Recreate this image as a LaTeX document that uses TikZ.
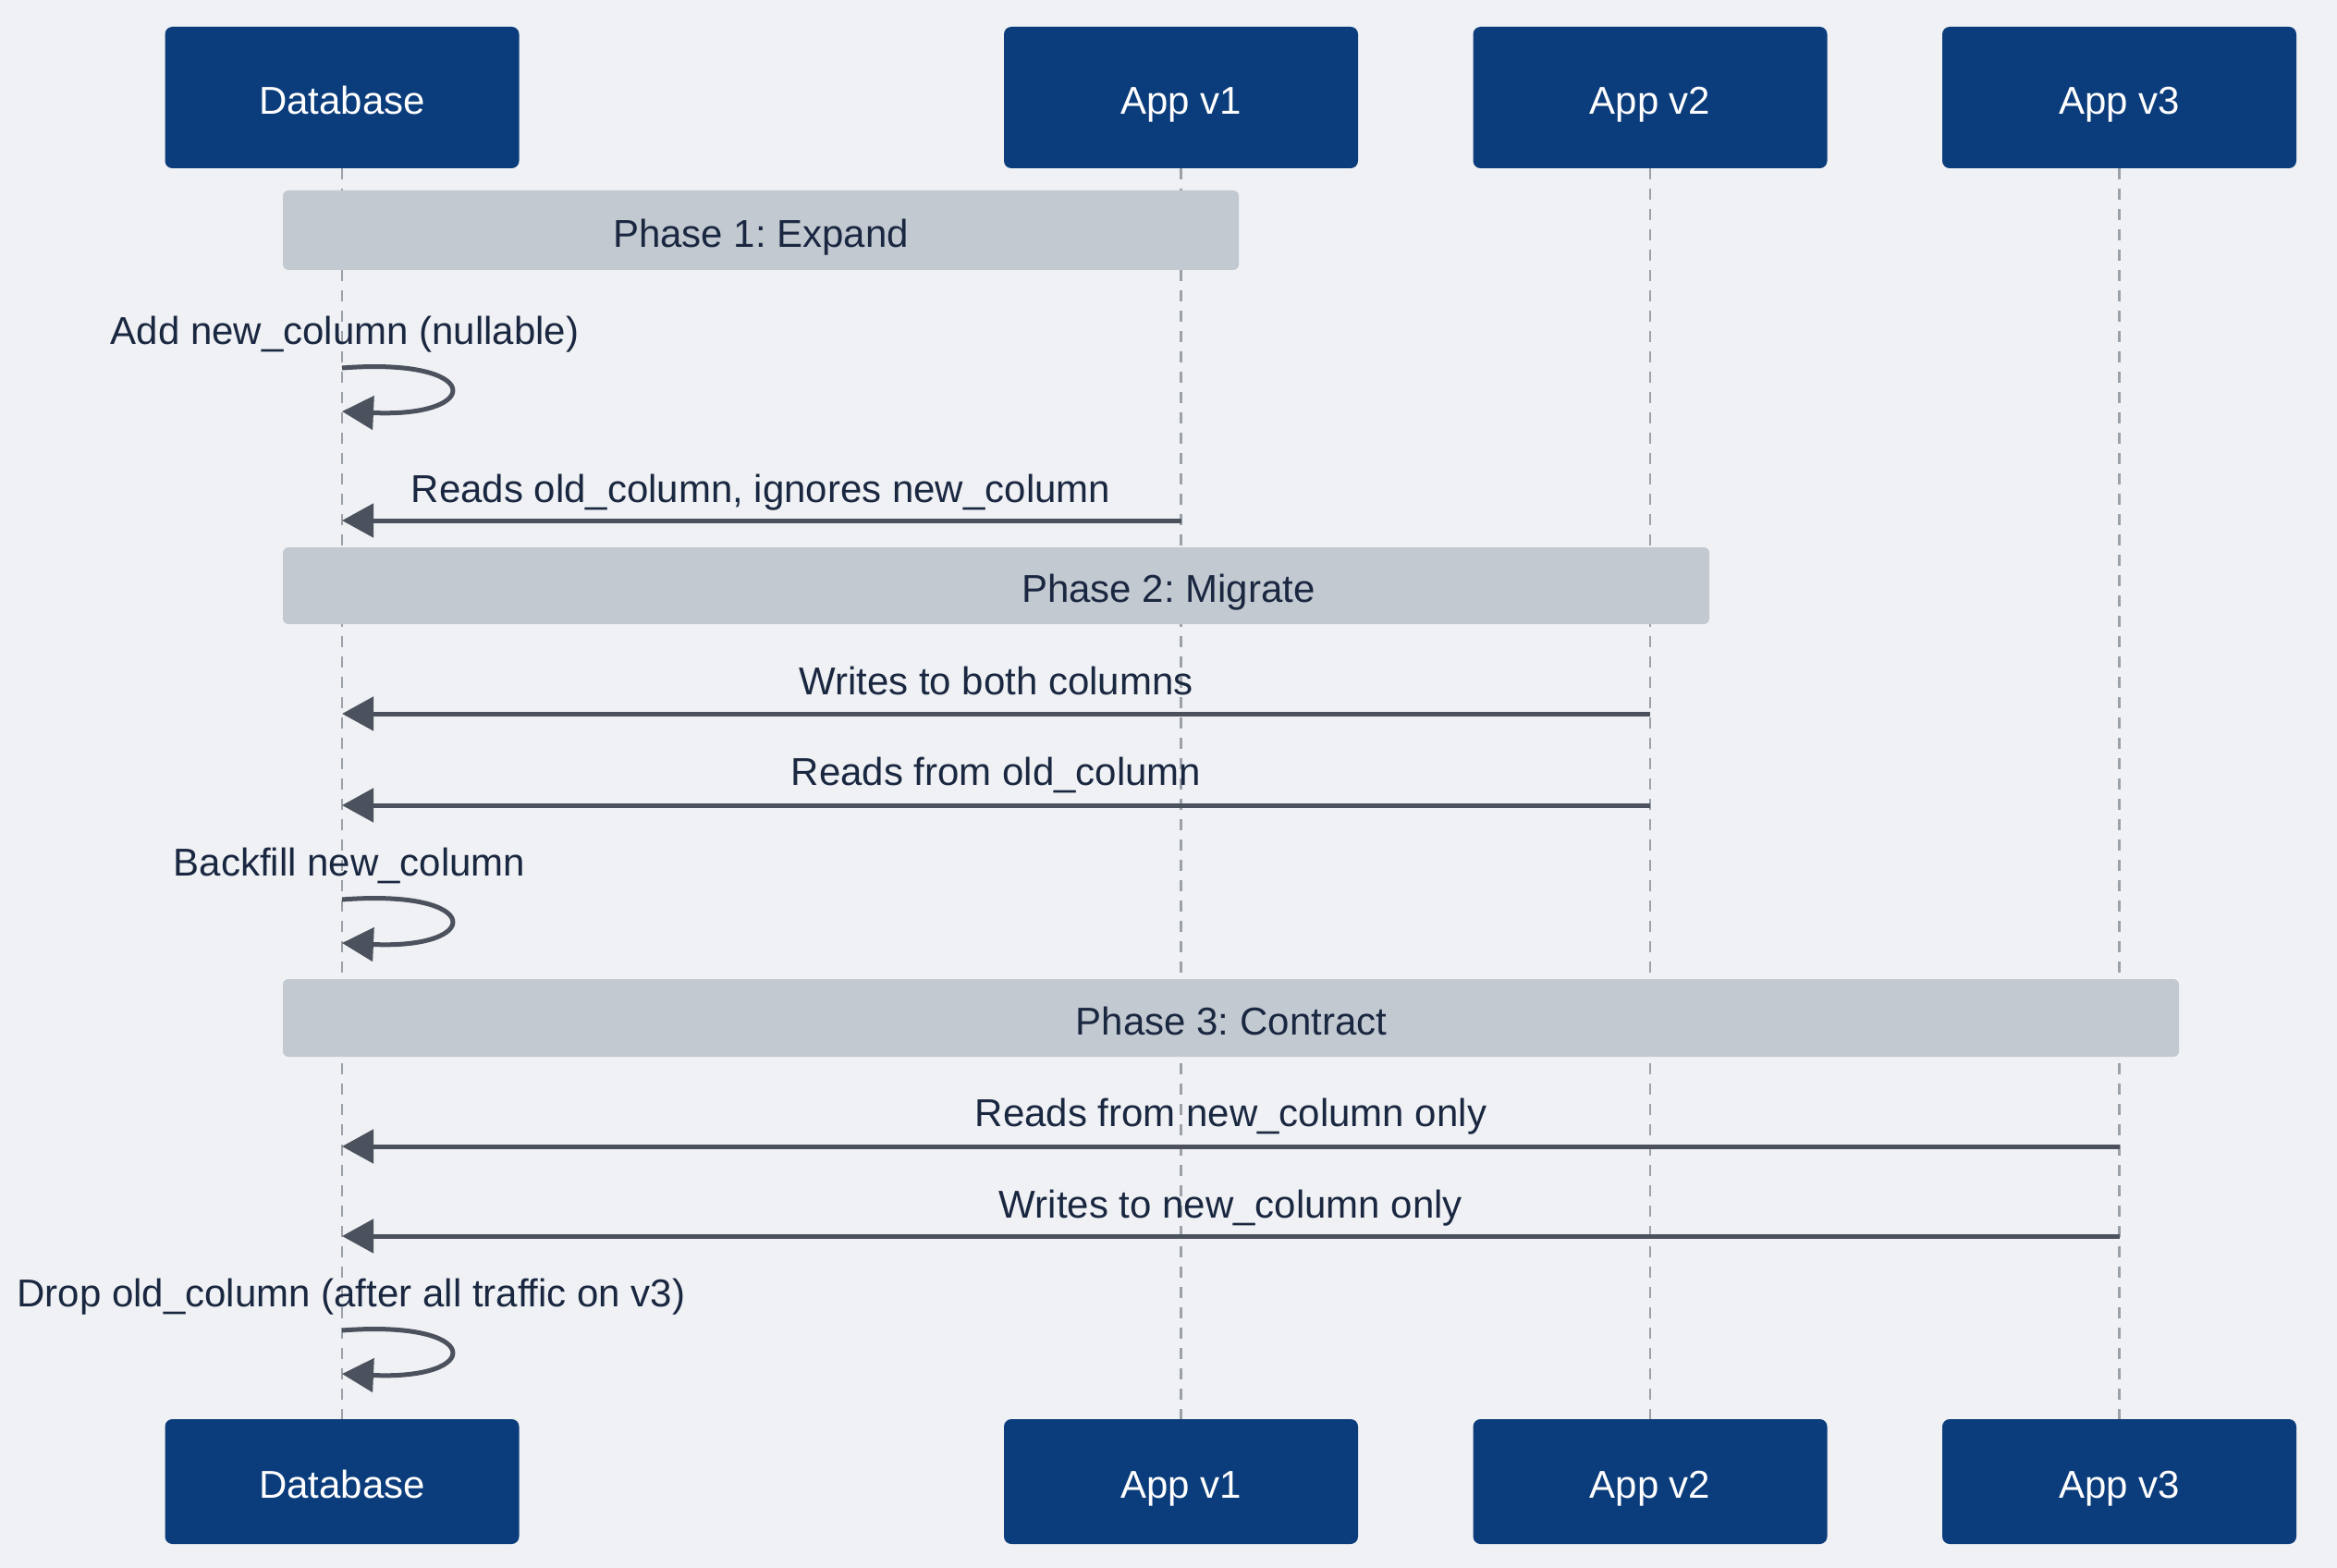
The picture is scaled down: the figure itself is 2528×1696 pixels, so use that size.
\documentclass[tikz,border=0pt]{standalone}
\usepackage{fontspec}
\setmainfont{Liberation Sans}
\usetikzlibrary{arrows.meta}
\frenchspacing
\definecolor{bgc}{HTML}{EFF1F4}
\definecolor{navy}{HTML}{0B3C7B}
\definecolor{bandc}{HTML}{C3C9D1}
\definecolor{ink}{HTML}{1A2740}
\definecolor{msgc}{HTML}{4B525D}
\definecolor{lifec}{HTML}{9BA1A9}
\begin{document}
\begin{tikzpicture}[x=0.5pt,y=-0.5pt,
  txt/.style={font=\fontsize{21}{25}\selectfont},
  actor/.style={txt, fill=navy, text=white, rounded corners=4pt,
    minimum width=191.5pt, inner sep=0pt, text height=18pt, text depth=0pt},
  toprow/.style={actor, minimum height=76.5pt},
  botrow/.style={actor, minimum height=67.5pt},
  band/.style={fill=bandc, rounded corners=3pt, inner sep=0pt},
  bandlabel/.style={txt, text=ink, inner sep=0pt, text height=15pt, text depth=0pt},
  msglabel/.style={txt, text=ink, inner sep=0pt, text height=15pt, text depth=0pt},
  lifeline/.style={draw=lifec, line width=1.4pt, dash pattern=on 6pt off 5pt},
  msg/.style={draw=msgc, line width=2.5pt, -{Triangle[length=17pt,width=18pt]}},
]
% canvas
\fill[bgc] (0,0) rectangle (2528,1696);
\useasboundingbox (0,0) rectangle (2528,1696);

% participants, top and bottom
\node[toprow] (dbT) at (370,105.5) {Database};
\node[toprow] (v1T) at (1277.5,105.5) {App v1};
\node[toprow] (v2T) at (1785,105.5) {App v2};
\node[toprow] (v3T) at (2292.5,105.5) {App v3};
\node[botrow] (dbB) at (370,1602.5) {Database};
\node[botrow] (v1B) at (1277.5,1602.5) {App v1};
\node[botrow] (v2B) at (1785,1602.5) {App v2};
\node[botrow] (v3B) at (2292.5,1602.5) {App v3};

% lifelines
\draw[lifeline] (dbT.south) -- (dbB.north);
\draw[lifeline] (v1T.south) -- (v1B.north);
\draw[lifeline] (v2T.south) -- (v2B.north);
\draw[lifeline] (v3T.south) -- (v3B.north);

% phase bands
\node[band, minimum width=517pt, minimum height=43pt] (ph1) at (823,249) {};
\node[bandlabel] (ph1t) at (823,253) {Phase 1: Expand};
\node[band, minimum width=771.5pt, minimum height=41.5pt] (ph2) at (1077.5,633.5) {};
\node[bandlabel] (ph2t) at (1264,636) {Phase 2: Migrate};
\node[band, minimum width=1025.5pt, minimum height=42pt] (ph3) at (1331.5,1101) {};
\node[bandlabel] (ph3t) at (1332,1104) {Phase 3: Contract};

% endpoints of messages on the lifelines
\coordinate (a1s) at (370,398);  \coordinate (a1e) at (370,445);
\coordinate (r1s) at (1277.5,563); \coordinate (r1e) at (370,563);
\coordinate (w2s) at (1785,772);  \coordinate (w2e) at (370,772);
\coordinate (r2s) at (1785,871);  \coordinate (r2e) at (370,871);
\coordinate (b2s) at (370,973);  \coordinate (b2e) at (370,1020);
\coordinate (r3s) at (2292.5,1240); \coordinate (r3e) at (370,1240);
\coordinate (w3s) at (2292.5,1337); \coordinate (w3e) at (370,1337);
\coordinate (d3s) at (370,1439); \coordinate (d3e) at (370,1486);

% phase 1
\node[msglabel] (l1) at (373,357) {Add new\_column (nullable)};
\draw[msg] (a1s) .. controls ([xshift=77pt,yshift=6pt]a1s) and ([xshift=77pt,yshift=-3.5pt]a1e) .. (a1e);
\node[msglabel] (l2) at (823,528) {Reads old\_column, ignores new\_column};
\draw[msg] (r1s) -- (r1e);

% phase 2
\node[msglabel] (l3) at (1077.5,736) {Writes to both columns};
\draw[msg] (w2s) -- (w2e);
\node[msglabel] (l4) at (1077.5,834) {Reads from old\_column};
\draw[msg] (r2s) -- (r2e);
\node[msglabel] (l5) at (378,932) {Backfill new\_column};
\draw[msg] (b2s) .. controls ([xshift=77pt,yshift=6pt]b2s) and ([xshift=77pt,yshift=-3.5pt]b2e) .. (b2e);

% phase 3
\node[msglabel] (l6) at (1331.5,1203) {Reads from new\_column only};
\draw[msg] (r3s) -- (r3e);
\node[msglabel] (l7) at (1331.5,1302) {Writes to new\_column only};
\draw[msg] (w3s) -- (w3e);
\node[msglabel] (l8) at (380,1398) {Drop old\_column (after all traffic on v3)};
\draw[msg] (d3s) .. controls ([xshift=77pt,yshift=6pt]d3s) and ([xshift=77pt,yshift=-3.5pt]d3e) .. (d3e);
\end{tikzpicture}
\end{document}
